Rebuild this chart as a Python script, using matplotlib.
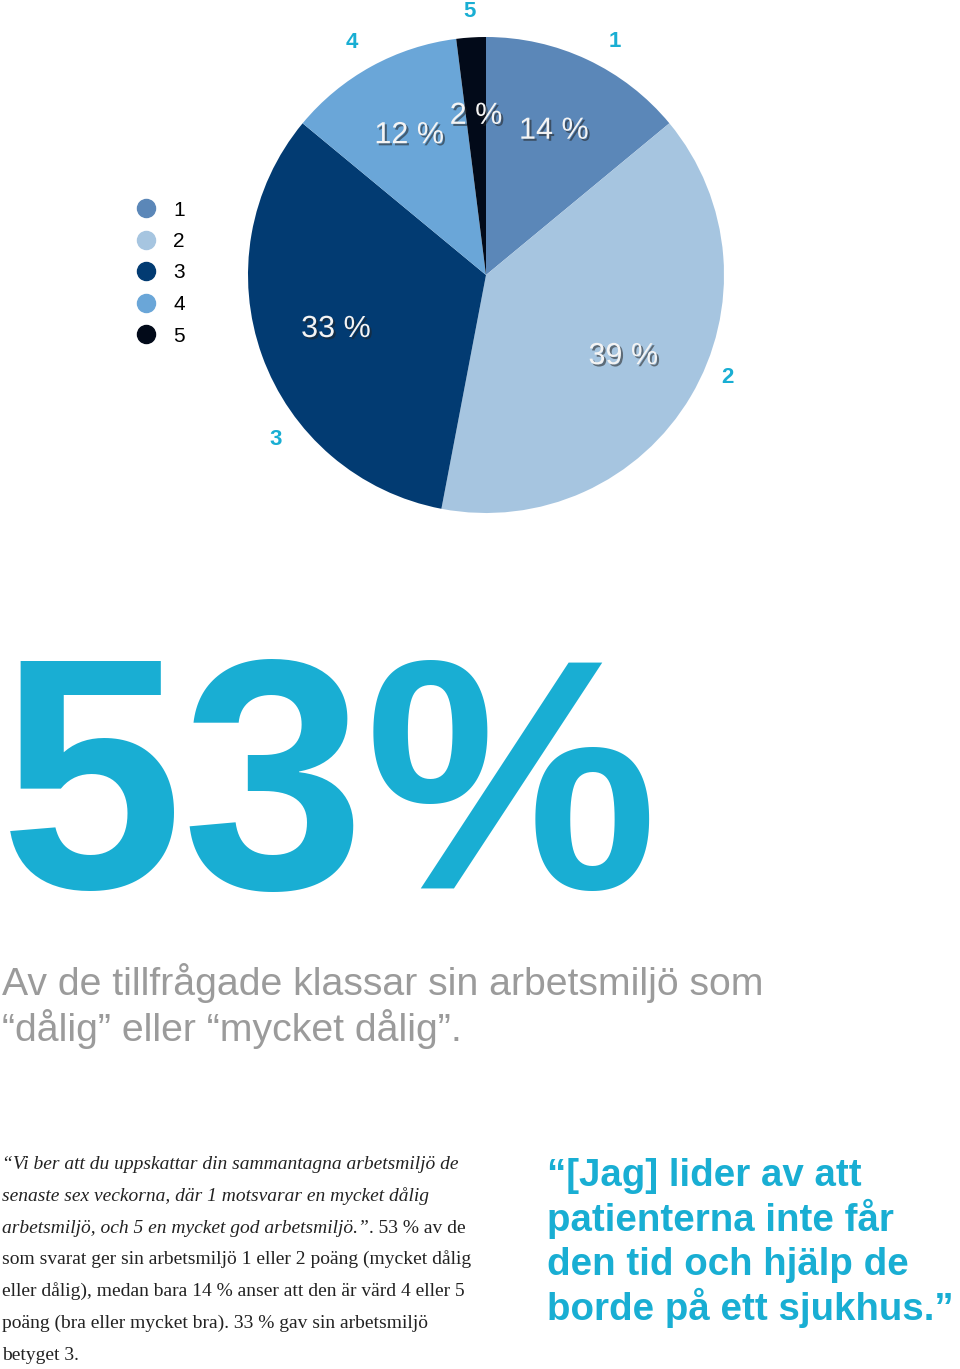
import matplotlib
matplotlib.use("Agg")
import matplotlib.pyplot as plt
import matplotlib.patheffects as pe
from matplotlib.lines import Line2D
import numpy as np

# data
categories = ["1", "2", "3", "4", "5"]
shares = [14, 39, 33, 12, 2]
colors = ["#5b87b8", "#a6c5e0", "#023b72", "#6aa6d8", "#020a19"]
cyan = "#19aed3"

big_number = "53%"
subtitle = ["Av de tillfrågade klassar sin arbetsmiljö som",
            "“dålig” eller “mycket dålig”."]
body = [
    [("“Vi ber att du uppskattar din sammantagna arbetsmiljö de", "italic")],
    [("senaste sex veckorna, där 1 motsvarar en mycket dålig", "italic")],
    [("arbetsmiljö, och 5 en mycket god arbetsmiljö.”", "italic"), (". 53 % av de", "normal")],
    [("som svarat ger sin arbetsmiljö 1 eller 2 poäng (mycket dålig", "normal")],
    [("eller dålig), medan bara 14 % anser att den är värd 4 eller 5", "normal")],
    [("poäng (bra eller mycket bra). 33 % gav sin arbetsmiljö", "normal")],
    [("betyget 3.", "normal")],
]
quote = ["“[Jag] lider av att", "patienterna inte får",
         "den tid och hjälp de", "borde på ett sjukhus.”"]

plt.rcParams['font.family'] = ['Liberation Sans', 'DejaVu Sans']

W, H = 960, 1369
fig = plt.figure(figsize=(W / 100, H / 100), dpi=100)

def fx(x):
    return x / W

def fy(y):
    return 1 - y / H

# pie
cx, cy, r = 486, 275, 238
ax = fig.add_axes([fx(cx - r), fy(cy + r), 2 * r / W, 2 * r / H])
wedges, texts, autotexts = ax.pie(
    shares, labels=categories, colors=colors, startangle=90, counterclock=False,
    autopct=lambda p: "%d %%" % round(p), pctdistance=0.67, labeldistance=1.12,
    textprops=dict(fontsize=16, color=cyan, fontweight="bold"))
ax.set_xlim(-1, 1)
ax.set_ylim(-1, 1)
ax.set_aspect("equal")

# category labels are not exactly at the mid angle in the original
label_angles = [61, -23, -142, 120, 93.5]
label_dist = [1.12, 1.10, 1.12, 1.13, 1.11]
for t, ang, d in zip(texts, label_angles, label_dist):
    a = np.radians(ang)
    t.set_position((d * np.cos(a), d * np.sin(a)))
    t.set_ha("center")
    t.set_va("center")
    t.set_clip_on(False)

for t in autotexts:
    t.set_color("#f4f4f4")
    t.set_fontsize(22)
    t.set_fontweight("normal")
    t.set_path_effects([pe.SimplePatchShadow(offset=(1.5, -1.5), alpha=0.55, shadow_rgbFace="#222222"),
                        pe.Normal()])

# legend
handles = [Line2D([], [], marker="o", ls="", color=c, markersize=13) for c in colors]
fig.legend(handles, categories, loc="center left", bbox_to_anchor=(fx(136), fy(273)),
           frameon=False, fontsize=15, labelspacing=0.6, handletextpad=0.8,
           handlelength=1.0, borderpad=0, borderaxespad=0)

# big number
fig.text(fx(0), fy(888), big_number, fontsize=237, fontweight="bold", color=cyan,
         ha="left", va="baseline")

# subtitle
for i, line in enumerate(subtitle):
    fig.text(fx(2), fy(995 + 46 * i), line, fontsize=28.3, color="#9b9b9b",
             ha="left", va="baseline")

# body text
renderer = fig.canvas.get_renderer()
for i, parts in enumerate(body):
    x = 2
    for txt, style in parts:
        t = fig.text(fx(x), fy(1169 + 31.8 * i), txt, fontsize=14, style=style,
                     family=["Liberation Serif", "DejaVu Serif"], color="#222222",
                     ha="left", va="baseline")
        x = t.get_window_extent(renderer).x1

# quote
for i, line in enumerate(quote):
    fig.text(fx(547), fy(1186 + 44.7 * i), line, fontsize=27.7, fontweight="bold",
             color=cyan, ha="left", va="baseline")

fig.savefig("out.png", dpi=100)
